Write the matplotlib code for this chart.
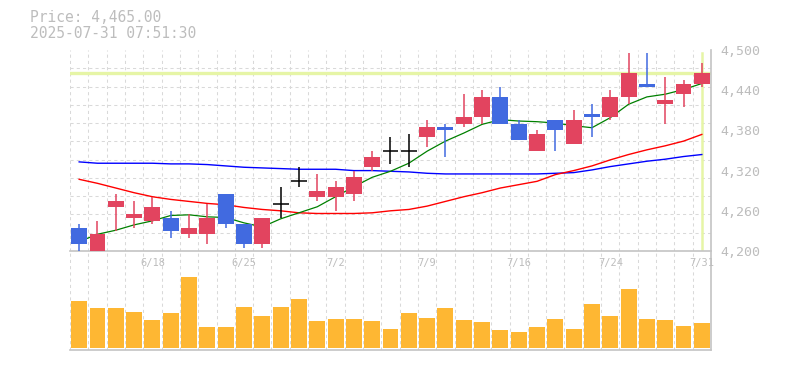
import matplotlib

matplotlib.use("Agg")
import matplotlib.pyplot as plt
import numpy as np

# daily OHLC, 2025-06-12 .. 2025-07-31
dates = ["6/12", "6/13", "6/16", "6/17", "6/18", "6/19", "6/20", "6/23", "6/24", "6/25",
         "6/26", "6/27", "6/30", "7/1", "7/2", "7/3", "7/4", "7/7", "7/8", "7/9",
         "7/10", "7/11", "7/14", "7/15", "7/16", "7/17", "7/18", "7/22", "7/23", "7/24",
         "7/25", "7/28", "7/29", "7/30", "7/31"]
opens = [4235, 4200, 4265, 4250, 4245, 4250, 4225, 4225, 4285, 4240,
         4210, 4270, 4305, 4280, 4280, 4285, 4325, 4350, 4350, 4370,
         4385, 4390, 4400, 4430, 4390, 4350, 4395, 4360, 4405, 4400,
         4430, 4450, 4420, 4435, 4450]
highs = [4240, 4245, 4285, 4275, 4280, 4260, 4255, 4270, 4285, 4240,
         4250, 4295, 4325, 4315, 4305, 4320, 4350, 4370, 4375, 4395,
         4390, 4435, 4440, 4445, 4395, 4380, 4395, 4410, 4420, 4440,
         4495, 4495, 4460, 4455, 4480]
lows = [4200, 4200, 4230, 4235, 4240, 4220, 4220, 4210, 4235, 4205,
        4205, 4250, 4295, 4275, 4260, 4275, 4320, 4330, 4325, 4355,
        4340, 4385, 4390, 4390, 4365, 4350, 4350, 4360, 4370, 4395,
        4420, 4445, 4390, 4415, 4445]
closes = [4210, 4225, 4275, 4255, 4265, 4230, 4235, 4250, 4240, 4210,
          4250, 4270, 4305, 4290, 4295, 4310, 4340, 4350, 4350, 4385,
          4380, 4400, 4430, 4390, 4365, 4375, 4380, 4395, 4400, 4430,
          4465, 4445, 4425, 4450, 4465]
volumes = [47, 40, 40, 36, 28, 35, 71, 21, 21, 41,
           32, 41, 49, 27, 29, 29, 27, 19, 35, 30,
           40, 28, 26, 18, 16, 21, 29, 19, 44, 32,
           59, 29, 28, 22, 25]

ma5 = [4214, 4225, 4231, 4239, 4245, 4253, 4254, 4251, 4250, 4242,
       4236, 4248, 4257, 4266, 4281, 4296, 4310, 4319, 4331, 4349,
       4364, 4376, 4389, 4396, 4394, 4393, 4391, 4387, 4384, 4399,
       4419, 4430, 4434, 4441, 4450]
ma25 = [4307, 4301, 4294, 4287, 4281, 4277, 4274, 4271, 4269, 4265,
        4262, 4260, 4257, 4256, 4256, 4256, 4257, 4260, 4262, 4267,
        4274, 4281, 4287, 4294, 4299, 4304, 4314, 4320, 4327, 4336,
        4344, 4351, 4357, 4364, 4374]
ma75 = [4333, 4331, 4331, 4331, 4331, 4330, 4330, 4329, 4327, 4325,
        4324, 4323, 4322, 4322, 4322, 4320, 4320, 4319, 4318, 4316,
        4315, 4315, 4315, 4315, 4315, 4315, 4316, 4317, 4321, 4326,
        4330, 4334, 4337, 4341, 4344]

price_ticks = [4200, 4260, 4320, 4380, 4440, 4500]
label_dates = ["6/18", "6/25", "7/2", "7/9", "7/16", "7/24", "7/31"]
last_price = 4465
header = ["Price: 4,465.00", "2025-07-31 07:51:30"]

UP, DOWN, FLAT = "#e2445f", "#416ae0", "black"
GRID = "#d9d9d9"
TEXT = "#bdbdbd"
HILITE = "#e6f5a6"
MONO = "DejaVu Sans Mono"

fig = plt.figure(figsize=(7.85, 3.7), dpi=100)
W, H = 785, 370
x = np.arange(len(dates))


def frame(left, top, right, bottom):
    return [left / W, 1 - bottom / H, (right - left) / W, (bottom - top) / H]


vol_ax = fig.add_axes(frame(70, 251, 711, 350))
ax = fig.add_axes(frame(70, 50, 711, 251))
for a in (ax, vol_ax):
    a.set_facecolor("none")
    a.set_xlim(-0.5, len(dates) - 0.5)
    a.set_xticks(np.arange(-0.5, len(dates), 1), minor=True)
    a.grid(which="minor", axis="x", color=GRID, linestyle=(0, (3, 3)), linewidth=0.75)
    for side in ("left", "top"):
        a.spines[side].set_visible(False)
    for side in ("right", "bottom"):
        a.spines[side].set_color("#c4c4c4")
        a.spines[side].set_linewidth(1.2)
    a.set_axisbelow(True)

# volume
vol_ax.bar(x, volumes, width=0.87, color="#feb733", zorder=2)
vol_ax.set_ylim(-2, 97)
vol_ax.set_yticks([])
vol_ax.tick_params(axis="x", which="both", length=0, labelbottom=False)

# price panel
ax.set_ylim(price_ticks[0], price_ticks[-1])
ax.set_yticks(np.linspace(price_ticks[0], price_ticks[-1], 12), minor=True)
ax.grid(which="minor", axis="y", color=GRID, linestyle=(0, (3, 3)), linewidth=0.75)
ax.yaxis.tick_right()
ax.set_yticks(price_ticks)
ax.set_yticklabels([f"{p:,}" for p in price_ticks], family=MONO, fontsize=9.5, color=TEXT)
ax.set_xticks([dates.index(d) for d in label_dates])
ax.set_xticklabels(label_dates, family=MONO, fontsize=7.5, color=TEXT)
ax.tick_params(axis="both", which="both", length=0)
ax.tick_params(axis="y", pad=7)
ax.tick_params(axis="x", pad=5)

ax.axhline(last_price, color=HILITE, linewidth=2.4, zorder=1)
ax.axvline(x[-1], ymax=0.985, color=HILITE, linewidth=1.8, zorder=1)

ax.plot(x, ma75, color="#0000ff", linewidth=1.0, zorder=2)
ax.plot(x, ma25, color="#ff0000", linewidth=1.0, zorder=2)
ax.plot(x, ma5, color="#008000", linewidth=0.9, zorder=2)

bw = 0.87
for i, (o, h, l, c) in enumerate(zip(opens, highs, lows, closes)):
    color = UP if c > o else DOWN if c < o else FLAT
    ax.vlines(i, l, h, color=color, linewidth=1.1, zorder=3)
    if c == o:
        ax.hlines(c, i - bw / 2, i + bw / 2, color=color, linewidth=1.1, zorder=3)
    else:
        ax.bar(i, abs(c - o), bottom=min(o, c), width=bw, color=color, zorder=4)

fig.text(30 / W, 1 - 17 / H, header[0], family=MONO, fontsize=10.5, color=TEXT, va="center")
fig.text(30 / W, 1 - 33 / H, header[1], family=MONO, fontsize=10.5, color=TEXT, va="center")

fig.savefig("out.png", dpi=100)
